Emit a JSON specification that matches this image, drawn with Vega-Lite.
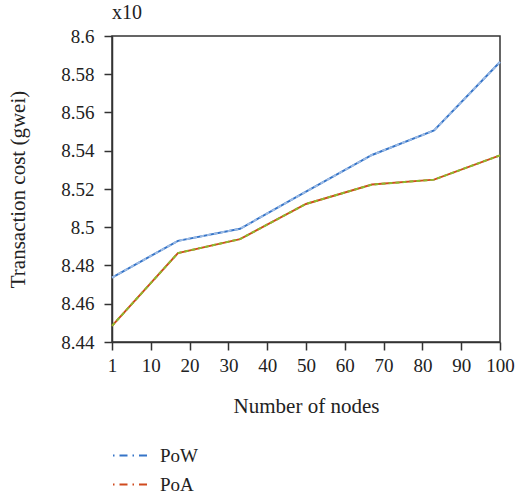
{
  "$schema": "https://vega.github.io/schema/vega-lite/v6.json",
  "width": 388,
  "height": 306,
  "autosize": {"type": "none"},
  "padding": {"left": 112, "top": 36, "right": 16, "bottom": 152},
  "title": {"text": "x10", "anchor": "start", "frame": "group", "font": "Liberation Serif", "fontSize": 20, "fontWeight": "normal", "color": "#222", "offset": 4},
  "config": {
    "font": "Liberation Serif",
    "view": {"stroke": "#333", "strokeWidth": 1.5},
    "axis": {
      "labelFont": "Liberation Serif", "labelFontSize": 19, "labelColor": "#222",
      "labelOverlap": false, "labelFlush": false,
      "titleFont": "Liberation Serif", "titleFontSize": 21, "titleFontWeight": "normal", "titleColor": "#222",
      "domainColor": "#333", "domainWidth": 1.5, "tickColor": "#333", "tickWidth": 1.5, "tickSize": 8, "grid": false
    }
  },
  "data": {"values": [
    {"nodes": 1, "cost": 8.4737, "protocol": "PoW"},
    {"nodes": 17, "cost": 8.4929, "protocol": "PoW"},
    {"nodes": 33, "cost": 8.4992, "protocol": "PoW"},
    {"nodes": 50, "cost": 8.5186, "protocol": "PoW"},
    {"nodes": 67, "cost": 8.5378, "protocol": "PoW"},
    {"nodes": 83, "cost": 8.5506, "protocol": "PoW"},
    {"nodes": 100, "cost": 8.5864, "protocol": "PoW"},
    {"nodes": 1, "cost": 8.4484, "protocol": "PoA"},
    {"nodes": 17, "cost": 8.4865, "protocol": "PoA"},
    {"nodes": 33, "cost": 8.4938, "protocol": "PoA"},
    {"nodes": 50, "cost": 8.5122, "protocol": "PoA"},
    {"nodes": 67, "cost": 8.5223, "protocol": "PoA"},
    {"nodes": 83, "cost": 8.5249, "protocol": "PoA"},
    {"nodes": 100, "cost": 8.5376, "protocol": "PoA"}
  ]},
  "encoding": {
    "x": {"field": "nodes", "type": "quantitative",
      "scale": {"domain": [1, 10, 100], "range": [0, 38.8, 388], "nice": false, "zero": false},
      "axis": {"values": [1, 10, 20, 30, 40, 50, 60, 70, 80, 90, 100], "tickCount": 11, "title": "Number of nodes", "labelPadding": 6, "titlePadding": 20}},
    "y": {"field": "cost", "type": "quantitative",
      "scale": {"domain": [8.44, 8.6], "zero": false, "nice": false},
      "axis": {"values": [8.44, 8.46, 8.48, 8.5, 8.52, 8.54, 8.56, 8.58, 8.6], "tickCount": 9, "format": ".2~f", "title": "Transaction cost (gwei)", "labelPadding": 10, "titlePadding": 32}}
  },
  "layer": [
    {
      "mark": {"type": "line", "strokeWidth": 2},
      "encoding": {
        "color": {"field": "protocol", "type": "nominal",
          "scale": {"domain": ["PoW", "PoA"], "range": ["#3574c8", "#d04a1e"]},
          "legend": {
            "orient": "none", "legendX": 0, "legendY": 401, "title": null,
            "symbolType": "stroke", "symbolSize": 1225, "symbolStrokeWidth": 2,
            "symbolDash": [1.5, 5, 8, 5],
            "labelFont": "Liberation Serif", "labelFontSize": 19, "labelColor": "#222",
            "labelOffset": 11, "rowPadding": -13
          }}
      }
    },
    {
      "mark": {"type": "line", "strokeWidth": 2, "strokeDash": [4, 3]},
      "encoding": {
        "color": {"field": "protocol", "type": "nominal",
          "scale": {"domain": ["PoW", "PoA"], "range": ["#9dbbe4", "#8cba2c"]},
          "legend": null}
      }
    }
  ],
  "resolve": {"scale": {"color": "independent"}}
}
